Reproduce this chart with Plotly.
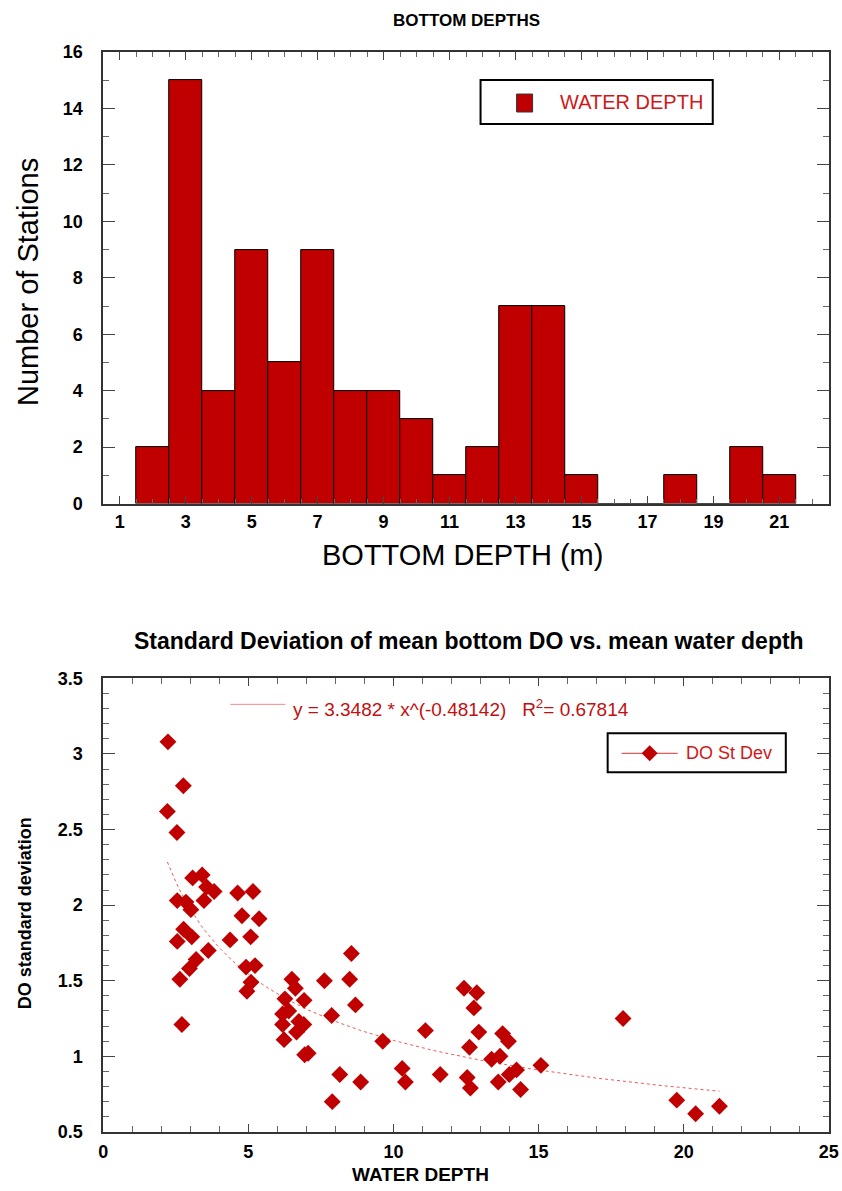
import numpy as np
import plotly.graph_objects as go

W, H = 842, 1191
# The page keeps the browser's default 8px body margin, so the captured page is a
# little larger than the figure and is fitted back into 842x1191. Positions below
# are given in final picture pixels and converted through that mapping.
PAD = 8
SX = W / (W + 2 * PAD)
SY = H / (H + 2 * PAD + 3)
XSHIFT = 3

# ---------------- data ----------------
depth_bins = [2, 3, 4, 5, 6, 7, 8, 9, 10, 11, 12, 13, 14, 15, 16, 17, 18, 19, 20, 21]
station_counts = [2, 15, 4, 9, 5, 9, 4, 4, 3, 1, 2, 7, 7, 1, 0, 0, 1, 0, 2, 1]

water_depth = [2.23, 2.76, 2.21, 2.54, 3.08, 3.41, 3.56, 3.82, 3.47, 2.55,
               2.85, 3.02, 4.63, 5.16, 4.78, 5.37, 2.77, 3.05, 2.55, 3.62,
               4.37, 5.08, 3.20, 2.97, 2.64, 4.92, 5.23, 5.09, 4.95, 2.71,
               6.50, 6.62, 7.62, 8.55, 8.49, 8.69, 6.26, 6.92, 6.39, 6.18,
               6.74, 6.18, 6.91, 6.66, 6.23, 7.87, 7.06, 6.94, 8.15, 7.89,
               8.87, 9.63, 11.10, 10.30, 10.41, 11.61, 12.43, 12.87, 12.77, 12.94,
               12.62, 12.54, 12.65, 13.76, 13.96, 13.38, 13.67, 14.24, 13.99, 13.61,
               14.38, 15.08, 17.91, 19.76, 20.41, 21.23]
do_std = [3.08, 2.79, 2.62, 2.48, 2.18, 2.20, 2.12, 2.09, 2.03, 2.03,
          2.02, 1.97, 2.08, 2.09, 1.93, 1.91, 1.84, 1.79, 1.76, 1.70,
          1.77, 1.79, 1.64, 1.58, 1.51, 1.59, 1.60, 1.49, 1.43, 1.21,
          1.51, 1.45, 1.50, 1.68, 1.51, 1.34, 1.38, 1.37, 1.30, 1.28,
          1.23, 1.21, 1.21, 1.16, 1.11, 1.27, 1.02, 1.01, 0.88, 0.70,
          0.83, 1.10, 1.17, 0.92, 0.83, 0.88, 1.45, 1.42, 1.32, 1.16,
          1.06, 0.86, 0.79, 1.15, 1.10, 0.98, 1.00, 0.91, 0.88, 0.83,
          0.78, 0.94, 1.25, 0.71, 0.62, 0.67]

# power-law regression stated on the chart
FIT_A = 3.3482
FIT_B = -0.48142
FIT_R2 = 0.67814

BAR_RED = "#c00000"
TEXT_RED = "#d01818"
FONT = "Liberation Sans"

# ---------------- geometry (final picture pixels) ----------------
L, R = 103, 828
T1, B1 = 50, 502
T2, B2 = 677, 1131


def fx(p):
    return ((p + XSHIFT) / SX - PAD) / W


def fy(p):
    return 1 - (p / SY - PAD) / H


fig = go.Figure()

fig.add_trace(go.Bar(
    x=depth_bins, y=station_counts, width=1.0,
    marker=dict(color=BAR_RED, line=dict(color="black", width=1)),
    xaxis="x", yaxis="y", showlegend=False, name="WATER DEPTH"))

fit_x = np.linspace(min(water_depth), max(water_depth), 300)
fit_y = FIT_A * fit_x ** FIT_B
fig.add_trace(go.Scatter(
    x=fit_x, y=fit_y, mode="lines",
    line=dict(color="rgba(232,60,60,0.85)", width=1, dash="dot"),
    xaxis="x2", yaxis="y2", showlegend=False, hoverinfo="skip"))

fig.add_trace(go.Scatter(
    x=water_depth, y=do_std, mode="markers",
    marker=dict(symbol="diamond", size=13, color=BAR_RED, line=dict(width=0)),
    xaxis="x2", yaxis="y2", showlegend=False, name="DO St Dev"))

axis_common = dict(showline=True, linecolor="#333333", linewidth=1.5, mirror="ticks",
                   ticks="inside", tickcolor="#444444", showgrid=False, zeroline=False,
                   ticklabeloverflow="allow",
                   tickfont=dict(family=FONT, size=18, color="black", weight="bold"))

fig.update_layout(
    width=W, height=H, margin=dict(l=0, r=0, t=0, b=0),
    paper_bgcolor="white", plot_bgcolor="white", showlegend=False,
    bargap=0,
    xaxis=dict(domain=[fx(L), fx(R)], anchor="y", range=[0.5, 22.5],
               tick0=1, dtick=2, ticklen=8, tickwidth=1,
               minor=dict(dtick=0.5, tick0=0.5, ticklen=5, ticks="inside", tickcolor="#666666"),
               ticklabelstandoff=1, **axis_common),
    yaxis=dict(domain=[fy(B1), fy(T1)], anchor="x", range=[0, 16],
               tick0=0, dtick=2, ticklen=12, tickwidth=1,
               minor=dict(dtick=1, ticklen=6, ticks="inside", tickcolor="#666666"),
               ticklabelstandoff=15, **axis_common),
    xaxis2=dict(domain=[fx(L), fx(R)], anchor="y2", range=[0, 25],
                tick0=0, dtick=5, ticklen=8, tickwidth=1,
                minor=dict(dtick=1, ticklen=6, ticks="inside", tickcolor="#666666"),
                ticklabelstandoff=3, **axis_common),
    yaxis2=dict(domain=[fy(B2), fy(T2)], anchor="x2", range=[0.5, 3.5],
                tick0=0.5, dtick=0.5, ticklen=12, tickwidth=1,
                minor=dict(dtick=0.1, ticklen=6, ticks="inside", tickcolor="#666666"),
                ticklabelstandoff=15, **axis_common),
)

ann = []


def text(x, y, s, size, bold=False, color="black", angle=0, xanchor="center"):
    ann.append(dict(x=fx(x), y=fy(y), xref="paper", yref="paper", text=s,
                    showarrow=False, textangle=angle, xanchor=xanchor, yanchor="middle",
                    font=dict(family=FONT, size=size, color=color,
                              weight="bold" if bold else "normal")))


text(466, 18, "BOTTOM DEPTHS", 17, bold=True)
text(28, 280, "Number of Stations", 29, angle=-90)
text(462, 553, "BOTTOM DEPTH (m)", 29)
text(468, 640, "Standard Deviation of mean bottom DO vs. mean water depth", 23, bold=True)
text(25, 912, "DO standard deviation", 18, bold=True, angle=-90)
text(420, 1174, "WATER DEPTH", 19, bold=True)
text(291, 707, f"y = {FIT_A} * x^({FIT_B})   R<sup>2</sup>= {FIT_R2}", 19,
     color="#c01010", xanchor="left")
text(557, 100, "WATER DEPTH", 20, color=TEXT_RED, xanchor="left")
text(683, 752, "DO St Dev", 18, color=TEXT_RED, xanchor="left")

shapes = []


def rect(x0, y0, x1, y1, **kw):
    shapes.append(dict(type="rect", xref="paper", yref="paper",
                       x0=fx(x0), x1=fx(x1), y0=fy(y1), y1=fy(y0), **kw))


def line(x0, y0, x1, y1, **kw):
    shapes.append(dict(type="line", xref="paper", yref="paper",
                       x0=fx(x0), x1=fx(x1), y0=fy(y0), y1=fy(y1), **kw))


# legend boxes
rect(480, 78, 712, 122, line=dict(color="black", width=2), fillcolor="white")
rect(516, 92, 532, 110, line=dict(color="#333333", width=1), fillcolor=BAR_RED)
rect(607, 732, 785, 771, line=dict(color="black", width=2), fillcolor="white")
line(621, 752, 677, 752, line=dict(color="#e03030", width=1))
cx, cy, r = 649, 752, 8
path = "M {} {} L {} {} L {} {} L {} {} Z".format(
    fx(cx - r), fy(cy), fx(cx), fy(cy - r), fx(cx + r), fy(cy), fx(cx), fy(cy + r))
shapes.append(dict(type="path", xref="paper", yref="paper", path=path,
                   fillcolor=BAR_RED, line=dict(width=0)))
# fit-line sample in equation label
line(230, 703, 285, 703, line=dict(color="rgba(232,60,60,0.6)", width=1))

fig.update_layout(annotations=ann, shapes=shapes)

fig.write_html("out.html")
